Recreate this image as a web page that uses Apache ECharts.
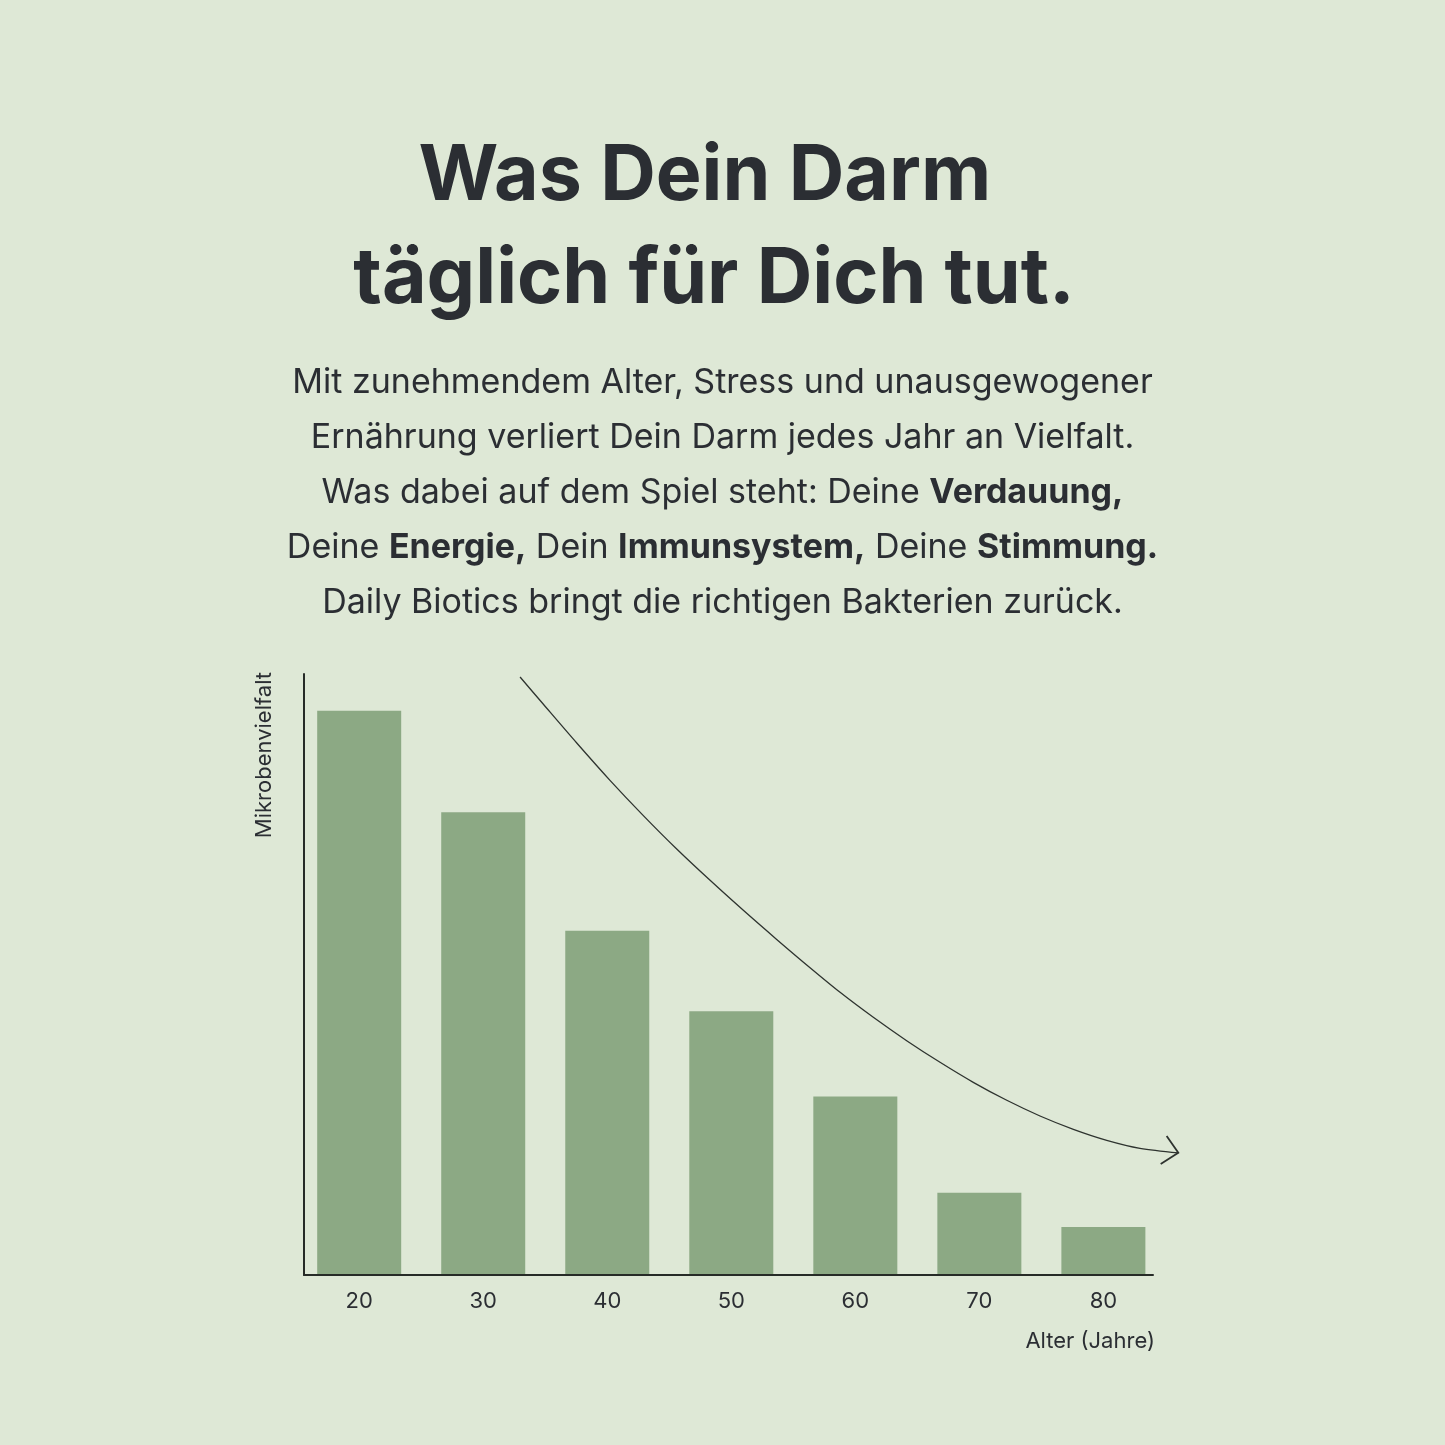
<!DOCTYPE html>
<html>
<head>
<meta charset="utf-8">
<script src="https://cdn.jsdelivr.net/npm/echarts@6/dist/echarts.min.js"></script>
<style>
  html, body { margin: 0; padding: 0; background: #dee8d6; }
  #chart { width: 1445px; height: 1445px; }
</style>
</head>
<body>
<div id="chart"></div>
<script>
// ---------- data ----------
const titleLines = ['Was Dein Darm ', 'täglich für Dich tut.'];
const introLines = [
  'Mit zunehmendem Alter, Stress und unausgewogener',
  'Ernährung verliert Dein Darm jedes Jahr an Vielfalt.',
  'Was dabei auf dem Spiel steht: Deine {b|Verdauung,}',
  'Deine {b|Energie,} Dein {b|Immunsystem,} Deine {b|Stimmung.}',
  'Daily Biotics bringt die richtigen Bakterien zurück.'
];
const ages = [20, 30, 40, 50, 60, 70, 80];
const diversity = [93.9, 77.0, 57.3, 43.9, 29.7, 13.7, 8.0];
const ageTicks = [20, 30, 40, 50, 60, 70, 80];
const xAxisName = 'Alter (Jahre)';
const yAxisName = 'Mikrobenvielfalt';
// decorative trend arrow (in axis units: age, diversity)
const trendAge = [32.97, 34.85, 37.54, 40.22, 42.91, 45.60, 48.29, 50.97, 53.66, 56.35, 58.77, 61.45, 64.14, 66.83, 69.51, 72.21, 74.89, 77.58, 80.27, 82.95, 86.04];
const trendLevel = [99.50, 94.96, 88.52, 82.31, 76.44, 70.88, 65.67, 60.68, 55.84, 51.13, 47.04, 42.88, 38.99, 35.39, 32.06, 29.07, 26.46, 24.24, 22.41, 21.08, 20.33];
const arrowHeadAge = [85.10, 86.04, 84.62];
const arrowHeadLevel = [23.13, 20.33, 18.47];

// ---------- style ----------
const INK = '#2b2e33';
const AXIS = '#262b27';
const BAR = '#8ca984';
const FONT = 'Inter, "Noto Sans", sans-serif';

const X_MIN = 15.55, X_MAX = 84;
const GRID = { left: 304, top: 674, width: 849, height: 601 };
const PX_PER_UNIT = GRID.width / (X_MAX - X_MIN);
const EXTRA = 40; // room on the right for the arrow tip

const chart = echarts.init(document.getElementById('chart'), null, { renderer: 'canvas' });

const option = {
  backgroundColor: '#dee8d6',
  animation: false,
  title: [
    {
      text: titleLines.join('\n'),
      left: 709,
      top: 120,
      textAlign: 'center',
      textStyle: { fontFamily: FONT, fontWeight: 700, fontSize: 77, lineHeight: 103, color: INK }
    },
    {
      text: introLines.join('\n'),
      left: 717.5,
      top: 350,
      textAlign: 'center',
      textStyle: {
        fontFamily: FONT, fontWeight: 400, fontSize: 34, lineHeight: 55, color: INK,
        rich: {
          b: { fontFamily: FONT, fontWeight: 700, fontSize: 34, lineHeight: 55, color: INK }
        }
      }
    }
  ],
  grid: [
    { left: GRID.left, top: GRID.top, width: GRID.width, height: GRID.height, outerBoundsMode: 'none', containLabel: false },
    { left: GRID.left, top: GRID.top, width: GRID.width + EXTRA, height: GRID.height, outerBoundsMode: 'none', containLabel: false }
  ],
  xAxis: [
    {
      type: 'value',
      gridIndex: 0,
      min: X_MIN,
      max: X_MAX,
      z: 5,
      axisLine: { show: true, lineStyle: { color: AXIS, width: 2 } },
      axisTick: { show: false },
      splitLine: { show: false },
      axisLabel: { customValues: ageTicks, fontFamily: FONT, fontSize: 22, color: INK, margin: 15 },
      name: xAxisName,
      nameLocation: 'end',
      nameGap: 2,
      nameMoveOverlap: false,
      nameTextStyle: { fontFamily: FONT, fontSize: 22, lineHeight: 22, color: INK, align: 'right', verticalAlign: 'top', padding: [55, 0, 0, 0] }
    },
    {
      type: 'value',
      gridIndex: 1,
      min: X_MIN,
      max: X_MAX + EXTRA / PX_PER_UNIT,
      show: false
    }
  ],
  yAxis: [
    {
      type: 'value',
      gridIndex: 0,
      min: 0,
      max: 100,
      z: 5,
      axisLine: { show: true, lineStyle: { color: AXIS, width: 2 } },
      axisTick: { show: false },
      axisLabel: { show: false },
      splitLine: { show: false },
      name: yAxisName,
      nameLocation: 'end',
      nameGap: 2,
      nameRotate: 90,
      nameMoveOverlap: false,
      nameTextStyle: { fontFamily: FONT, fontSize: 22, lineHeight: 22, color: INK, align: 'right', verticalAlign: 'bottom', padding: [0, 0, 29, 0] }
    },
    {
      type: 'value',
      gridIndex: 1,
      min: 0,
      max: 100,
      show: false
    }
  ],
  series: [
    {
      type: 'bar',
      xAxisIndex: 0,
      yAxisIndex: 0,
      data: ages.map((a, i) => [a, diversity[i]]),
      barWidth: 84,
      itemStyle: { color: BAR },
      silent: true
    },
    {
      type: 'line',
      xAxisIndex: 1,
      yAxisIndex: 1,
      data: trendAge.map((a, i) => [a, trendLevel[i]]),
      smooth: 0.3,
      showSymbol: false,
      clip: false,
      silent: true,
      lineStyle: { color: '#2e332f', width: 1.3 }
    },
    {
      type: 'line',
      xAxisIndex: 1,
      yAxisIndex: 1,
      data: arrowHeadAge.map((a, i) => [a, arrowHeadLevel[i]]),
      showSymbol: false,
      clip: false,
      silent: true,
      lineStyle: { color: '#2e332f', width: 1.8, join: 'miter' }
    }
  ]
};
chart.setOption(option);
</script>
</body>
</html>
